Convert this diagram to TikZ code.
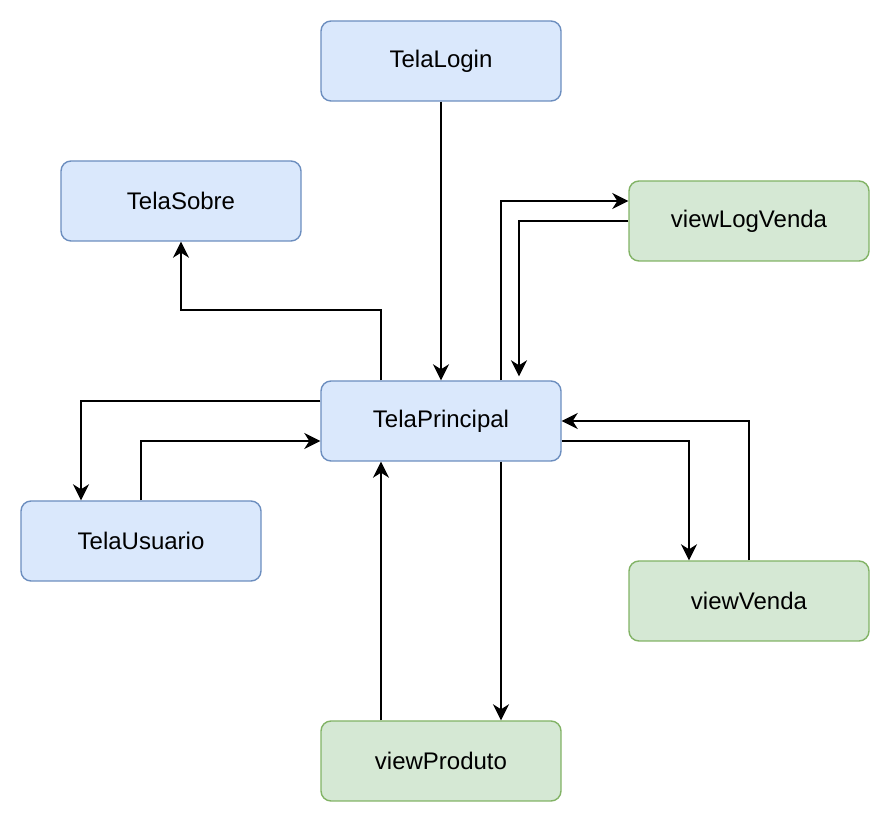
\documentclass[tikz,border=0pt]{standalone}
\usepackage{fontspec}
\setmainfont{Liberation Sans}
\usetikzlibrary{arrows.meta}
\definecolor{telafill}{HTML}{DAE8FC}
\definecolor{teladraw}{HTML}{6C8EBF}
\definecolor{viewfill}{HTML}{D5E8D4}
\definecolor{viewdraw}{HTML}{82B366}
\begin{document}
\begin{tikzpicture}[x=0.5pt,y=-0.5pt,
    tela node/.style={rectangle,rounded corners=5pt,fill=telafill,draw=teladraw,line width=0.7pt,minimum width=120pt,minimum height=40pt,font=\fontsize{12pt}{14pt}\selectfont},
    view node/.style={tela node,fill=viewfill,draw=viewdraw},
    link/.style={line width=1pt,-{Stealth[length=8pt,width=8pt,inset=2.5pt]}}]
  \useasboundingbox (0,0) rectangle (890,822);

  \node[tela node] at (441,61) (login) {TelaLogin};
  \node[tela node] at (181,201) (sobre) {TelaSobre};
  \node[view node] at (749,221) (logvenda) {viewLogVenda};
  \node[tela node] at (441,421) (principal) {TelaPrincipal};
  \node[tela node] at (141,541) (usuario) {TelaUsuario};
  \node[view node] at (749,601) (venda) {viewVenda};
  \node[view node] at (441,761) (produto) {viewProduto};

  % login e sobre
  \draw[link] (login) -- (principal);
  \draw[link] ([xshift=-30pt]principal.north) -- ++(0,-70) -| (sobre.south);

  % log de vendas
  \draw[link] ([xshift=30pt]principal.north) |- ([yshift=10pt]logvenda.west);
  \draw[link] (logvenda.west) -| ([xshift=39pt,yshift=2pt]principal.north);

  % usuario
  \draw[link] ([yshift=10pt]principal.west) -| ([xshift=-30pt]usuario.north);
  \draw[link] (usuario.north) |- ([yshift=-10pt]principal.west);

  % vendas
  \draw[link] ([yshift=-10pt]principal.east) -| ([xshift=-30pt]venda.north);
  \draw[link] (venda.north) |- (principal.east);

  % produtos
  \draw[link] ([xshift=30pt]principal.south) -- ([xshift=30pt]produto.north);
  \draw[link] ([xshift=-30pt]produto.north) -- ([xshift=-30pt]principal.south);
\end{tikzpicture}
\end{document}
